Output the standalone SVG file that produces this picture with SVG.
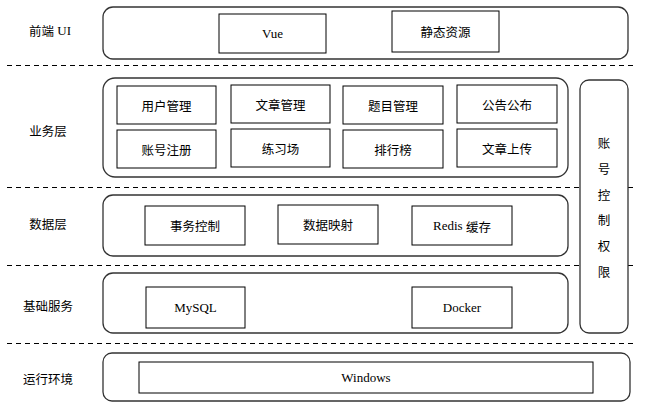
<svg xmlns="http://www.w3.org/2000/svg" width="658" height="409" viewBox="0 0 658 409">
<style>
.bg{fill:#fff}
.layer{fill:#fff;stroke:#333;stroke-width:1.3}
.box{fill:#fff;stroke:#000;stroke-width:1}
.sep{stroke:#000;stroke-width:1;stroke-dasharray:5,4;fill:none}
text{font-family:"Liberation Serif","Noto Sans CJK SC",serif;font-size:13px;fill:#000;text-anchor:middle;dominant-baseline:central}
.cn{font-family:"Noto Sans CJK SC","Liberation Sans",sans-serif;font-size:12.5px}
</style>
<rect class="bg" x="0" y="0" width="658" height="409"/>
<g id="separators">
<line class="sep" x1="7" y1="65.5" x2="636" y2="65.5"/>
<line class="sep" x1="7" y1="187.5" x2="636" y2="187.5"/>
<line class="sep" x1="7" y1="265.5" x2="636" y2="265.5"/>
<line class="sep" x1="7" y1="343.5" x2="636" y2="343.5"/>
</g>
<g id="labels">
<text x="50" y="30"><tspan class="cn">前端</tspan> UI</text>
<text class="cn" x="48" y="130">业务层</text>
<text class="cn" x="48" y="223">数据层</text>
<text class="cn" x="48" y="305">基础服务</text>
<text class="cn" x="48" y="378">运行环境</text>
</g>
<g id="frontend">
<rect class="layer" x="103" y="7" width="525" height="52" rx="10"/>
<g id="vue"><rect class="box" x="219" y="14" width="107" height="39"/><text x="272.5" y="33.5">Vue</text></g>
<g id="static"><rect class="box" x="392" y="11" width="107" height="41"/><text class="cn" x="445.5" y="31.5">静态资源</text></g>
</g>
<g id="business">
<rect class="layer" x="103" y="78" width="465" height="99" rx="12"/>
<g id="user"><rect class="box" x="117" y="86" width="99" height="38"/><text class="cn" x="166.5" y="105">用户管理</text></g>
<g id="article"><rect class="box" x="231" y="85" width="99" height="38"/><text class="cn" x="280.5" y="104">文章管理</text></g>
<g id="question"><rect class="box" x="343" y="86" width="100" height="38"/><text class="cn" x="393" y="105">题目管理</text></g>
<g id="notice"><rect class="box" x="457" y="85" width="100" height="38"/><text class="cn" x="507" y="104">公告公布</text></g>
<g id="register"><rect class="box" x="117" y="130" width="99" height="38"/><text class="cn" x="166.5" y="149">账号注册</text></g>
<g id="practice"><rect class="box" x="231" y="129" width="99" height="38"/><text class="cn" x="280.5" y="148">练习场</text></g>
<g id="rank"><rect class="box" x="343" y="130" width="100" height="38"/><text class="cn" x="393" y="149">排行榜</text></g>
<g id="upload"><rect class="box" x="457" y="129" width="100" height="38"/><text class="cn" x="507" y="148">文章上传</text></g>
</g>
<g id="auth">
<rect class="layer" x="580" y="80" width="48" height="253" rx="9"/>
<text class="cn" x="604" y="142">账</text>
<text class="cn" x="604" y="168">号</text>
<text class="cn" x="604" y="194">控</text>
<text class="cn" x="604" y="219">制</text>
<text class="cn" x="604" y="245">权</text>
<text class="cn" x="604" y="271">限</text>
</g>
<g id="data">
<rect class="layer" x="103" y="195" width="465" height="61" rx="10"/>
<g id="tx"><rect class="box" x="145" y="206" width="100" height="39"/><text class="cn" x="195" y="225.5">事务控制</text></g>
<g id="map"><rect class="box" x="278" y="205" width="100" height="39"/><text class="cn" x="328" y="224.5">数据映射</text></g>
<g id="redis"><rect class="box" x="412" y="206" width="100" height="39"/><text x="462" y="225.5">Redis <tspan class="cn">缓存</tspan></text></g>
</g>
<g id="infra">
<rect class="layer" x="103" y="273" width="465" height="60" rx="10"/>
<g id="mysql"><rect class="box" x="146" y="287" width="99" height="41"/><text x="195.5" y="307.5">MySQL</text></g>
<g id="docker"><rect class="box" x="412" y="287" width="100" height="41"/><text x="462" y="307.5">Docker</text></g>
</g>
<g id="runtime">
<rect class="layer" x="103" y="353" width="527" height="48" rx="9"/>
<g id="windows"><rect class="box" x="139" y="362" width="454" height="31"/><text x="366" y="377.5">Windows</text></g>
</g>
<g id="connectors"></g>
</svg>
